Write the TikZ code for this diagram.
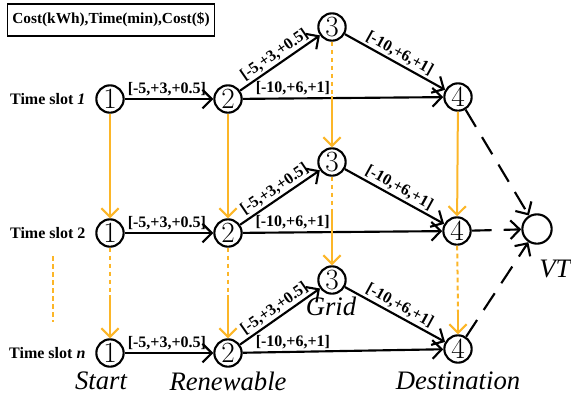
\documentclass[tikz,border=0pt]{standalone}
\usepackage{fontspec}
\newfontfamily\tnr{Liberation Serif}
\usetikzlibrary{arrows.meta}
\definecolor{slotorange}{RGB}{252,182,40}

\begin{document}
\begin{tikzpicture}[x=0.75pt,y=-0.75pt,
  state/.style={circle,draw,line width=1.6pt,minimum size=20.5pt,inner sep=0pt,
    font=\fontsize{22}{22}\selectfont},
  edge/.style={line width=1.6pt,-{Straight Barb[length=7pt,width=14pt]}},
  cost/.style={font=\tnr\bfseries\fontsize{12}{12}\selectfont,inner sep=1.5pt},
  slot/.style={font=\tnr\bfseries\fontsize{12}{12}\selectfont,anchor=east,inner sep=1pt},
  place/.style={font=\tnr\itshape\fontsize{20}{20}\selectfont},
  down/.style={slotorange,line width=1.5pt,-{Straight Barb[length=6.5pt,width=13pt]}},
  downdash/.style={slotorange,line width=1.5pt,dash pattern=on 3.5pt off 2.5pt},
  vtlink/.style={line width=1.6pt,dash pattern=on 15pt off 9pt,
    -{Straight Barb[length=7pt,width=14pt]}}
]
  \useasboundingbox (0,0) rectangle (571,401);

  % legend
  \node[draw,line width=0.8pt,minimum width=154pt,minimum height=24pt,
    font=\tnr\bfseries\fontsize{11.5}{11.5}\selectfont] (legend) at (111,20)
    {Cost(kWh),Time(min),Cost(\$)};

  % states
  \node[state] (s1) at (110,99) {1};
  \node[state] (r1) at (228,99) {2};
  \node[state] (g1) at (332,27) {3};
  \node[state] (d1) at (458,97) {4};
  \node[state] (s2) at (110,233) {1};
  \node[state] (r2) at (228,233) {2};
  \node[state] (g2) at (332,162) {3};
  \node[state] (d2) at (457,231) {4};
  \node[state] (s3) at (110,353) {1};
  \node[state] (r3) at (228,353) {2};
  \node[state] (g3) at (332,280) {3};
  \node[state] (d3) at (458,349) {4};
  \node[state,minimum size=22pt] (vt) at (537,229) {};

  % time slots
  \node[slot] (t1) at (87,99) {Time slot \textit{1}};
  \node[slot] (t2) at (87,233) {Time slot 2};
  \node[slot] (t3) at (87,353) {Time slot \textit{n}};

  % places
  \node[place] (start) at (101,381) {Start};
  \node[place] (renew) at (228,381) {Renewable};
  \node[place] (grid) at (331,306) {Grid};
  \node[place] (dest) at (458,381) {Destination};
  \node[place] (vtname) at (555,269) {VT};

  % moves within a slot
  \draw[edge] (s1) -- node[cost,above right,pos=0] {[-5,+3,+0.5]} (r1);
  \draw[edge] (r1) -- node[cost,above,sloped] {[-5,+3,+0.5]} (g1);
  \draw[edge] (r1) -- node[cost,above,pos=0.25] {[-10,+6,+1]} (d1);
  \draw[edge] (g1) -- node[cost,above,sloped] {[-10,+6,+1]} (d1);
  \draw[edge] (s2) -- node[cost,above right,pos=0] {[-5,+3,+0.5]} (r2);
  \draw[edge] (r2) -- node[cost,above,sloped] {[-5,+3,+0.5]} (g2);
  \draw[edge] (r2) -- node[cost,above,pos=0.25] {[-10,+6,+1]} (d2);
  \draw[edge] (g2) -- node[cost,above,sloped] {[-10,+6,+1]} (d2);
  \draw[edge] (s3) -- node[cost,above right,pos=0] {[-5,+3,+0.5]} (r3);
  \draw[edge] (r3) -- node[cost,above,sloped] {[-5,+3,+0.5]} (g3);
  \draw[edge] (r3) -- node[cost,above,pos=0.25] {[-10,+6,+1]} (d3);
  \draw[edge] (g3) -- node[cost,above,sloped] {[-10,+6,+1]} (d3);

  % from one slot to the next
  \coordinate (g12) at (332,96);
  \coordinate (s23) at (110,295);
  \coordinate (r23) at (228,295);
  \coordinate (g23) at (332,212);
  \coordinate (d23) at (458,312);
  \draw[down] (s1) -- (s2);
  \draw[down] (r1) -- (r2);
  \draw[downdash] (g1) -- (g12);
  \draw[down] (g12) -- (g2);
  \draw[down] (d1) -- (d2);
  \draw[downdash] (s2) -- (s23);
  \draw[down] (s23) -- (s3);
  \draw[downdash] (r2) -- (r23);
  \draw[down] (r23) -- (r3);
  \draw[downdash] (g2) -- (g23);
  \draw[down] (g23) -- (g3);
  \draw[downdash] (d2) -- (d23);
  \draw[down] (d23) -- (d3);
  \coordinate (gapA) at (53,256);
  \coordinate (gapB) at (53,322);
  \draw[downdash] (gapA) -- (gapB);

  % to the virtual terminal
  \draw[vtlink] (d1) -- (vt);
  \draw[vtlink] (d2) -- (vt);
  \draw[vtlink] (d3) -- (vt);
\end{tikzpicture}
\end{document}
